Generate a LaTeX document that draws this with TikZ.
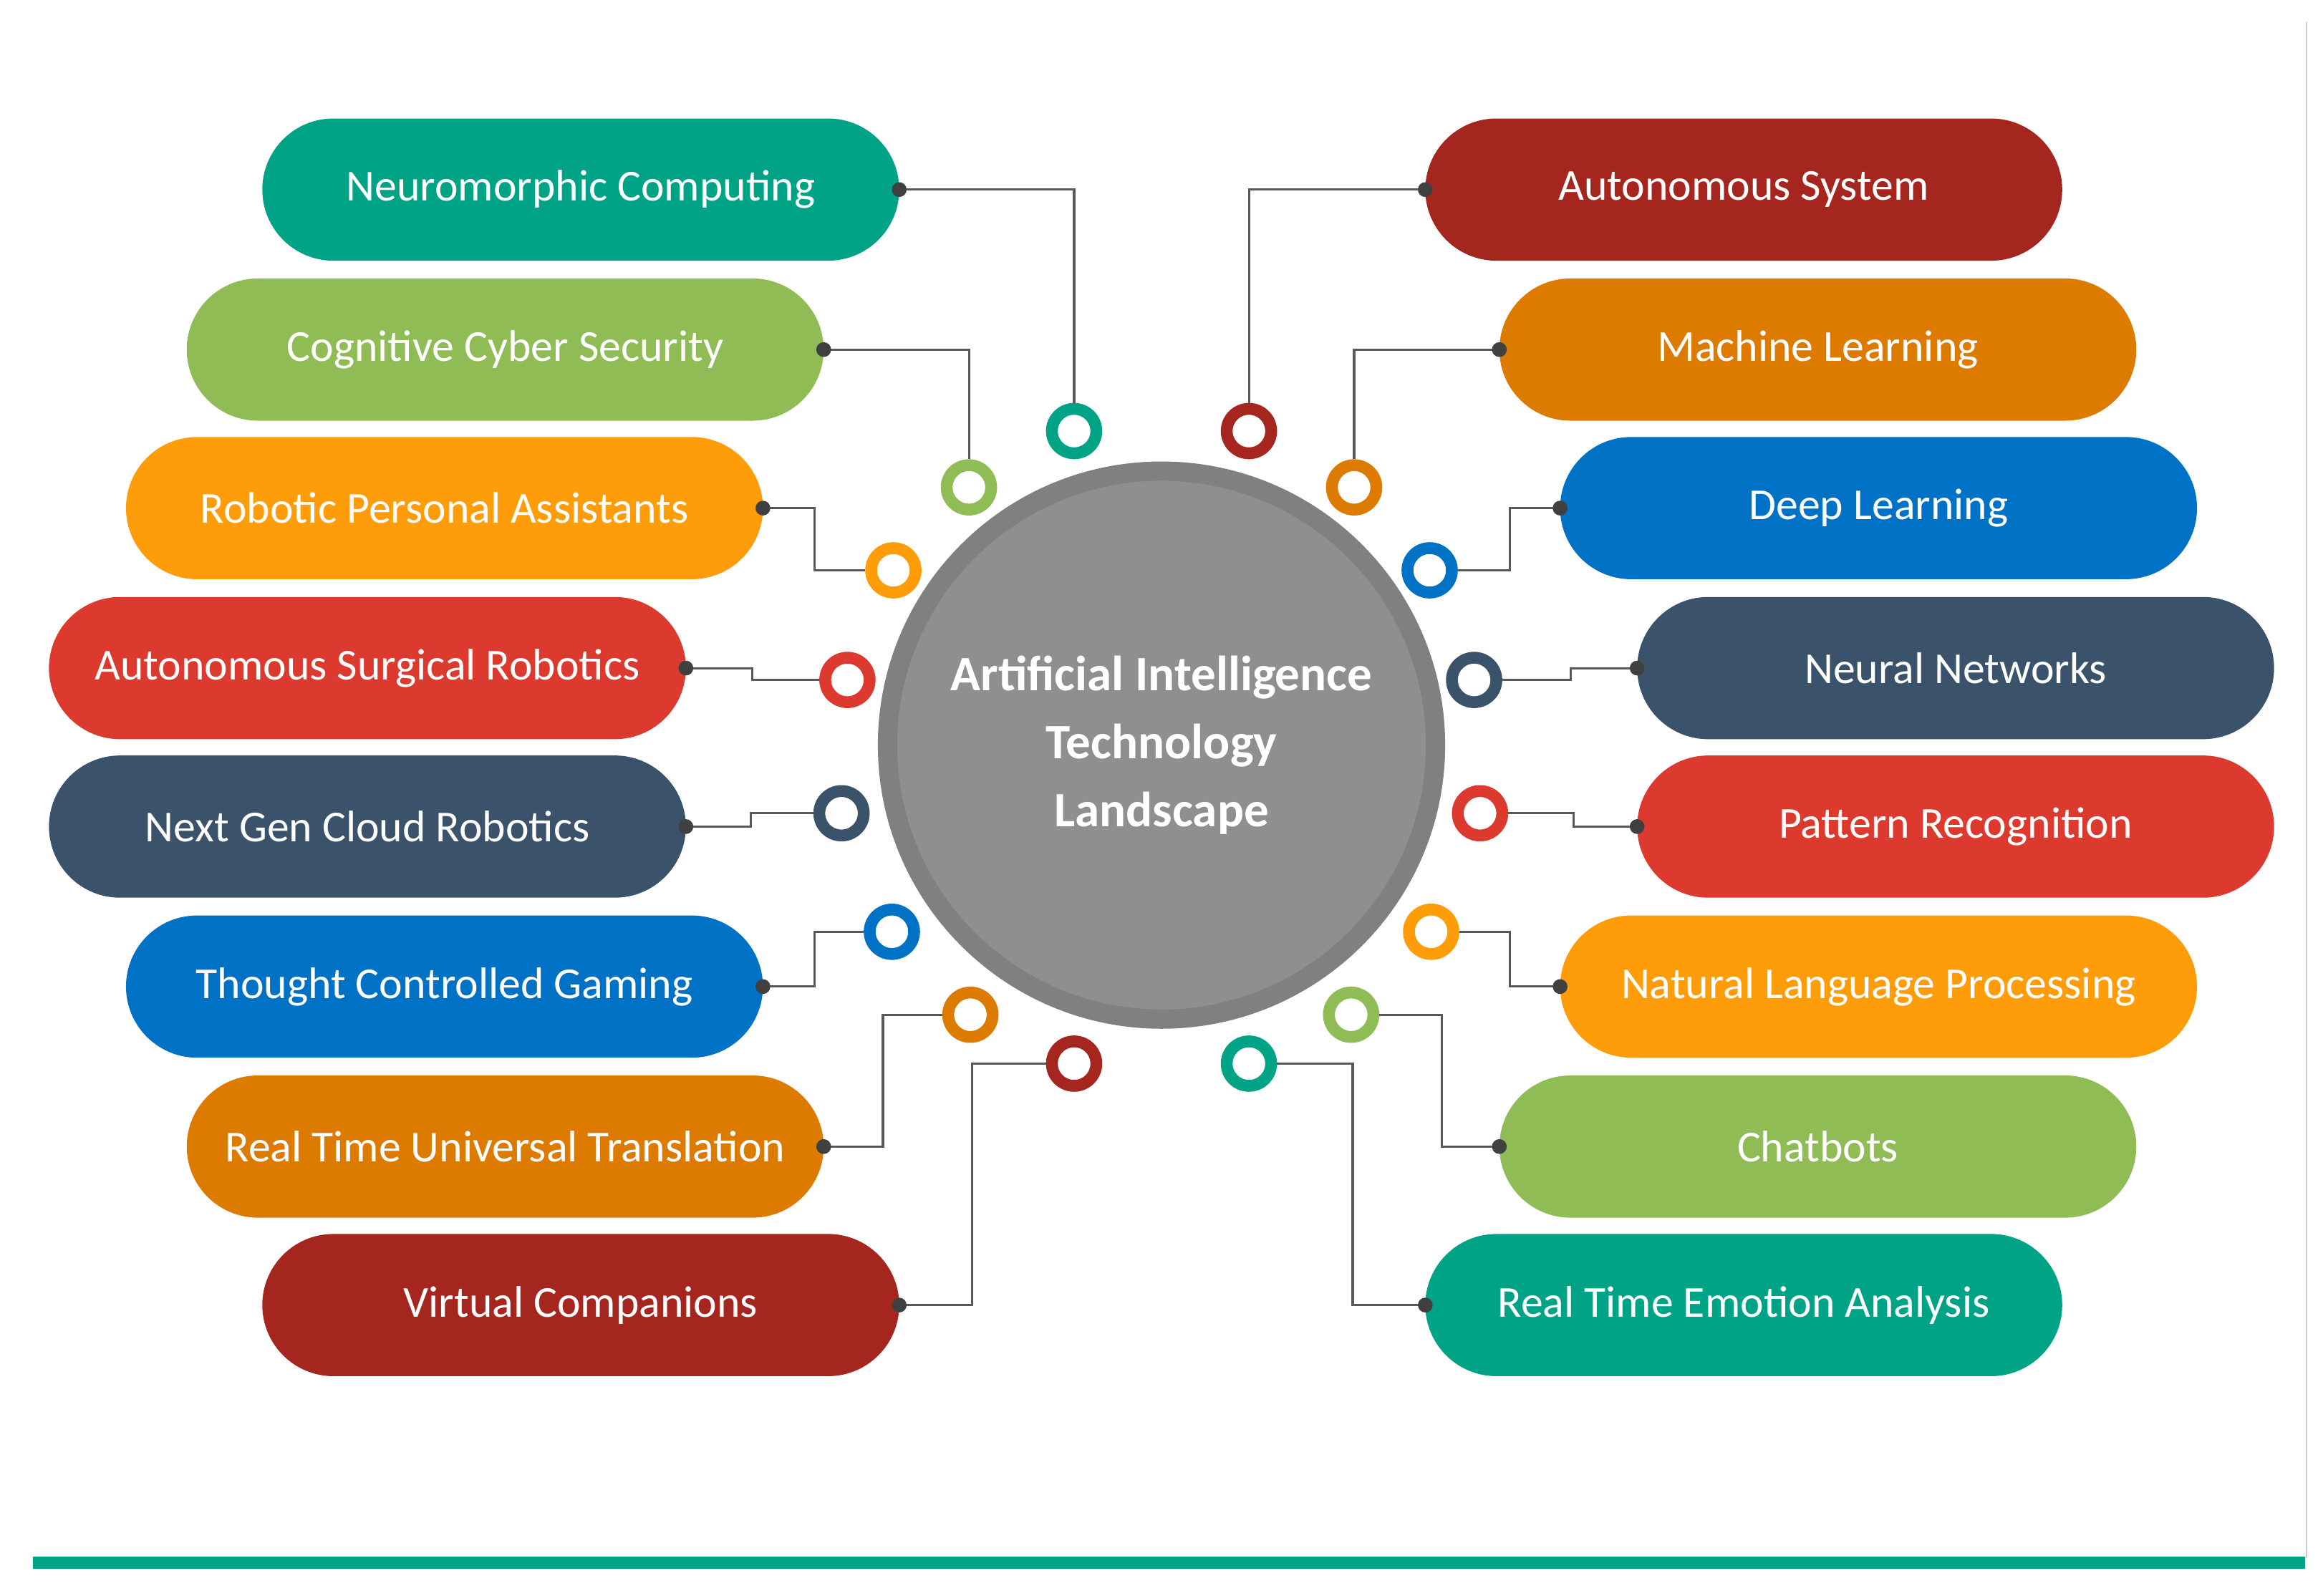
\documentclass[tikz,border=0pt]{standalone}
\usepackage{fontspec}
\setmainfont{Carlito}
\begin{document}
\begin{tikzpicture}[x=0.02cm,y=-0.02cm,
  pill/.style={fill=#1,draw=none,minimum width=8.6cm,minimum height=1.92cm,rounded corners=0.96cm,inner sep=0,outer sep=0,text=white,font=\fontsize{17}{20}\selectfont},
  ring/.style={circle,draw=#1,line width=0.16cm,fill=white,minimum size=0.6cm,inner sep=0},
  con/.style={draw=black!65,line width=0.85pt},
  dot/.style={circle,fill=black!75,inner sep=0,minimum size=0.2cm}]
\definecolor{cteal}{HTML}{00A385}
\definecolor{cgreen}{HTML}{8FBC55}
\definecolor{corange}{HTML}{FF9C0A}
\definecolor{cred}{HTML}{DC3A2E}
\definecolor{cslate}{HTML}{3A536B}
\definecolor{cblue}{HTML}{0072C6}
\definecolor{cdorange}{HTML}{DD7A00}
\definecolor{cdred}{HTML}{A5261E}
\useasboundingbox (0,0) rectangle (1568,1077);
\fill[white] (0,0) rectangle (1568,1077);
\draw[black!20,line width=0.6pt] (1557,15) -- (1557,1052);
\fill[cteal] (22,1051) rectangle (1556,1059);
% center
\node[circle,fill=black!44,draw=black!50,line width=0.26cm,minimum size=7.4cm,inner sep=0,text=white,align=center,font=\bfseries\fontsize{19}{26}\selectfont] (ctr) at (784,503) {Artificial Intelligence\\Technology\\Landscape};
% left pills
\node[pill=cteal] (p1) at (392,128) {Neuromorphic Computing};
\node[pill=cgreen] (p2) at (341,236) {Cognitive Cyber Security};
\node[pill=corange] (p3) at (300,343) {Robotic Personal Assistants};
\node[pill=cred] (p4) at (248,451) {Autonomous Surgical Robotics};
\node[pill=cslate] (p5) at (248,558) {Next Gen Cloud Robotics};
\node[pill=cblue] (p6) at (300,666) {Thought Controlled Gaming};
\node[pill=cdorange] (p7) at (341,774) {Real Time Universal Translation};
\node[pill=cdred] (p8) at (392,881) {Virtual Companions};
% right pills
\node[pill=cdred] (q1) at (1177,128) {Autonomous System};
\node[pill=cdorange] (q2) at (1227,236) {Machine Learning};
\node[pill=cblue] (q3) at (1268,343) {Deep Learning};
\node[pill=cslate] (q4) at (1320,451) {Neural Networks};
\node[pill=cred] (q5) at (1320,558) {Pattern Recognition};
\node[pill=corange] (q6) at (1268,666) {Natural Language Processing};
\node[pill=cgreen] (q7) at (1227,774) {Chatbots};
\node[pill=cteal] (q8) at (1177,881) {Real Time Emotion Analysis};
% rings
\node[ring=cteal] (a1) at (725,291) {};
\node[ring=cgreen] (a2) at (654,329) {};
\node[ring=corange] (a3) at (603,385) {};
\node[ring=cred] (a4) at (572,459) {};
\node[ring=cslate] (a5) at (568,549) {};
\node[ring=cblue] (a6) at (602,629) {};
\node[ring=cdorange] (a7) at (655,685) {};
\node[ring=cdred] (a8) at (725,718) {};
\node[ring=cdred] (b1) at (843,291) {};
\node[ring=cdorange] (b2) at (914,329) {};
\node[ring=cblue] (b3) at (965,385) {};
\node[ring=cslate] (b4) at (995,459) {};
\node[ring=cred] (b5) at (999,549) {};
\node[ring=corange] (b6) at (966,629) {};
\node[ring=cgreen] (b7) at (912,685) {};
\node[ring=cteal] (b8) at (843,718) {};
% connectors left
\draw[con] (p1.east) -| (a1.north);
\draw[con] (p2.east) -| (a2.north);
\draw[con] (p3.east) -- ++(35,0) |- (a3.west);
\draw[con] (p4.east) -- ++(45,0) |- (a4.west);
\draw[con] (p5.east) -- ++(44,0) |- (a5.west);
\draw[con] (p6.east) -- ++(35,0) |- (a6.west);
\draw[con] (p7.east) -- ++(40,0) |- (a7.west);
\draw[con] (p8.east) -- ++(49,0) |- (a8.west);
% connectors right
\draw[con] (q1.west) -| (b1.north);
\draw[con] (q2.west) -| (b2.north);
\draw[con] (q3.west) -- ++(-34,0) |- (b3.east);
\draw[con] (q4.west) -- ++(-45,0) |- (b4.east);
\draw[con] (q5.west) -- ++(-43,0) |- (b5.east);
\draw[con] (q6.west) -- ++(-34,0) |- (b6.east);
\draw[con] (q7.west) -- ++(-39,0) |- (b7.east);
\draw[con] (q8.west) -- ++(-49,0) |- (b8.east);
% dots
\foreach \n in {p1,p2,p3,p4,p5,p6,p7,p8} \node[dot] at (\n.east) {};
\foreach \n in {q1,q2,q3,q4,q5,q6,q7,q8} \node[dot] at (\n.west) {};
\end{tikzpicture}
\end{document}
